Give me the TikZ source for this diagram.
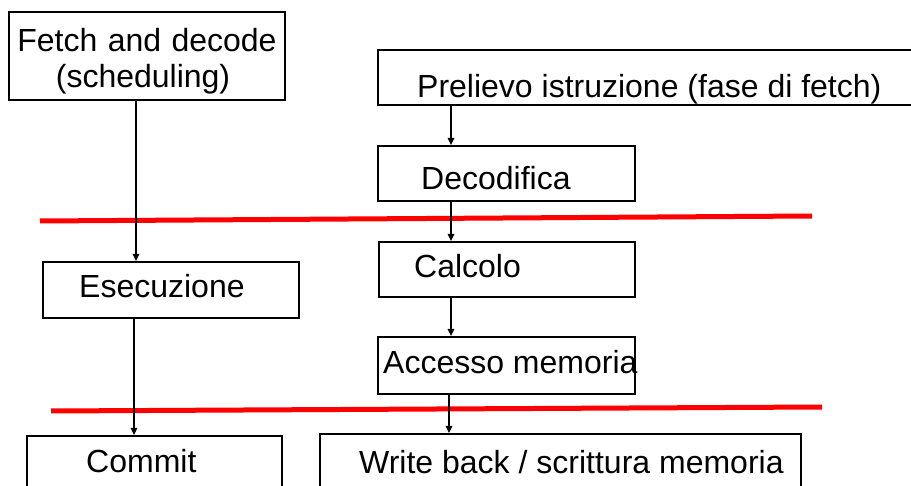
\documentclass[tikz,border=0pt]{standalone}
\usepackage{fontspec}
\setmainfont{Liberation Sans}
\usetikzlibrary{arrows.meta,calc}
\tikzset{
  box/.style={draw=black,line width=2pt,rectangle,inner sep=0pt},
  lbl/.style={anchor=base west,inner sep=0pt,font=\fontsize{32}{38}\selectfont},
  arr/.style={draw=black,line width=1.3pt,-{Triangle[length=7pt,width=6.5pt]}},
  sep/.style={draw=red,line width=5pt}
}
\begin{document}
\begin{tikzpicture}[x=1pt,y=-1pt]
\useasboundingbox (0,0) rectangle (911,486);
\clip (0,0) rectangle (911,486);
\fill[white] (0,0) rectangle (911,486);
% red separators
\coordinate (r1a) at (40,221); \coordinate (r1b) at (812,216);
\coordinate (r2a) at (51,411); \coordinate (r2b) at (822,407);
\draw[sep] (r1a) -- (r1b);
\draw[sep] (r2a) -- (r2b);
% boxes
\node[box,minimum width=276pt,minimum height=88pt] (fd) at (147,56) {};
\node[box,minimum width=540pt,minimum height=55pt] (pre) at (648,77.5) {};
\node[box,minimum width=257pt,minimum height=55pt] (dec) at (506.5,173.5) {};
\node[box,minimum width=256pt,minimum height=55pt] (calc) at (507,269.5) {};
\node[box,minimum width=257pt,minimum height=57pt] (acc) at (506.5,365.5) {};
\node[box,minimum width=481pt,minimum height=70pt] (wb) at (560.5,469) {};
\node[box,minimum width=256pt,minimum height=56pt] (ese) at (171,290) {};
\node[box,minimum width=255pt,minimum height=70pt] (com) at (154.5,471) {};
% texts
\node[lbl,anchor=base] (t1) at (147,51.5) {Fetch\hspace{1.5pt} and\hspace{1.5pt} decode};
\node[lbl,anchor=base] (t2) at (143,87.5) {(scheduling)};
\node[lbl] (t3) at (417,97.5) {Prelievo istruzione (fase di fetch)};
\node[lbl] (t4) at (421,189.5) {Decodifica};
\node[lbl] (t5) at (414,277.5) {Calcolo};
\node[lbl] (t6) at (79,297.5) {Esecuzione};
\node[lbl] (t7) at (383,373.5) {Accesso memoria};
\node[lbl] (t8) at (86,472.5) {Commit};
\node[lbl] (t9) at (359,473.5) {Write back / scrittura memoria};
% connectors
\coordinate (xl1) at (136,0);
\coordinate (xl2) at (134,0);
\coordinate (xm) at (451,0);
\coordinate (xm2) at (449,0);
\draw[arr] (fd.south -| xl1) -- (ese.north -| xl1);
\draw[arr] (ese.south -| xl2) -- (com.north -| xl2);
\draw[arr] (pre.south -| xm) -- (dec.north -| xm);
\draw[arr] (dec.south -| xm) -- (calc.north -| xm);
\draw[arr] (calc.south -| xm) -- (acc.north -| xm);
\draw[arr] (acc.south -| xm2) -- (wb.north -| xm2);
\end{tikzpicture}
\end{document}
